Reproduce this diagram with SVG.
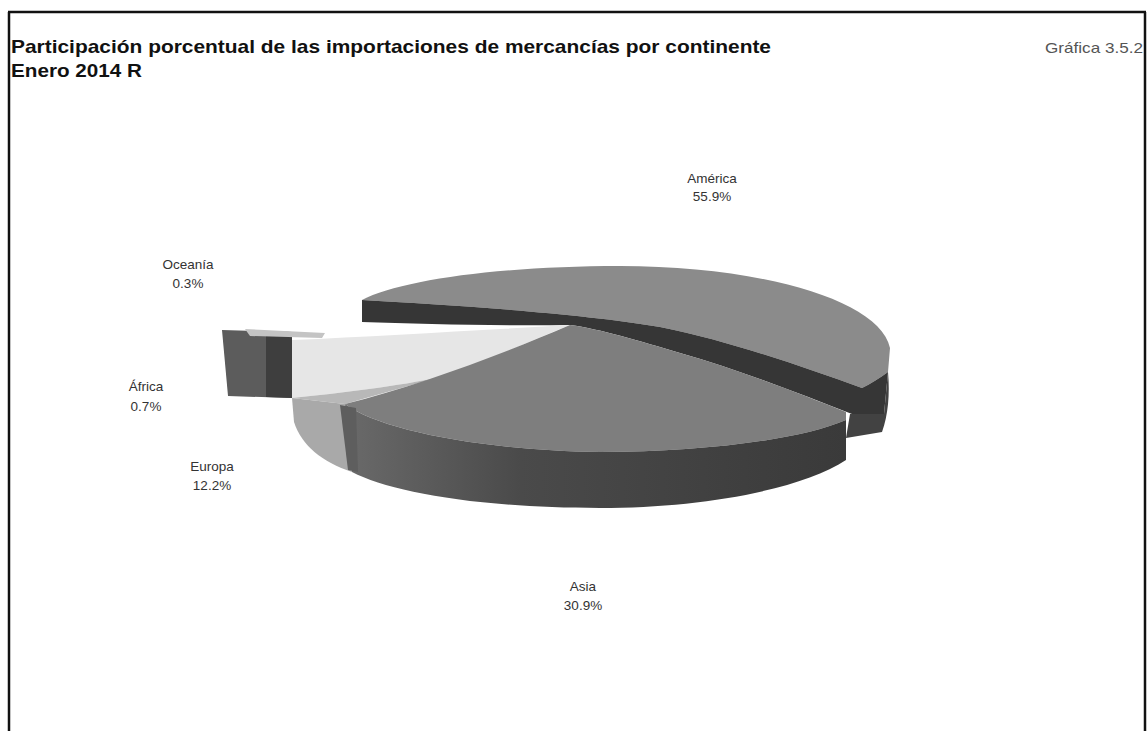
<svg xmlns="http://www.w3.org/2000/svg" width="1148" height="731" viewBox="0 0 1148 731">
<style>
.title{font-family:"Liberation Sans",Arial,sans-serif;font-size:18.5px;font-weight:bold;fill:#111}
.lbl{font-family:"Liberation Sans",Arial,sans-serif;font-size:13.5px;fill:#333;text-anchor:middle}
.num{font-family:"Liberation Sans",Arial,sans-serif;font-size:15px;fill:#555;text-anchor:end}
.frame{stroke:#111;stroke-width:2.5;fill:none}
</style>
<defs>
<linearGradient id="asiaSide" x1="0" y1="0" x2="1" y2="0">
<stop offset="0" stop-color="#6a6a6a"/>
<stop offset="0.35" stop-color="#4a4a4a"/>
<stop offset="1" stop-color="#3a3a3a"/>
</linearGradient>
</defs>
<rect width="1148" height="731" fill="#fff"/>
<g id="frame">
<line class="frame" x1="8" y1="12" x2="1146" y2="12"/>
<line class="frame" x1="9" y1="12" x2="9" y2="731"/>
<line class="frame" x1="1145" y1="12" x2="1145" y2="731"/>
</g>
<g id="titles">
<text class="title" x="11" y="53" textLength="760" lengthAdjust="spacingAndGlyphs">Participación porcentual de las importaciones de mercancías por continente</text>
<text class="title" x="11" y="77" textLength="131" lengthAdjust="spacingAndGlyphs">Enero 2014 R</text>
<text class="num" x="1143" y="53" textLength="98" lengthAdjust="spacingAndGlyphs">Gráfica 3.5.2</text>
</g>
<g id="pie">
<g id="slice-africa-oceania">
<path d="M222,330 L292,332 L292,398 L228,396 Z" fill="#5c5c5c"/>
<path d="M266,331 L292,332 L292,398 L266,397 Z" fill="#3e3e3e"/>
<path d="M245,329 L325,333 L322,338 L250,336 Z" fill="#c4c4c4"/>
</g>
<g id="slice-america">
<path d="M362,300 C400,280 500,266 620,266 C760,266 880,300 890,348 L888,372 C880,378 870,384 862,388 C800,366 730,341 660,327 C580,313 450,305 362,300 Z" fill="#8b8b8b"/>
<path d="M362,300 C450,305 580,313 660,327 C730,341 800,366 862,388 C870,384 880,378 888,372 L884,414 L852,414 C800,394 740,370 680,353 C640,341 600,329 570,325 C500,326 420,324 362,322 Z" fill="#363636"/>
<path d="M888,372 C890,395 888,415 882,432 L846,438 L850,414 L884,414 Z" fill="#424242"/>
</g>
<g id="slice-europa">
<path d="M292,340 C380,336 480,330 570,325 C520,345 480,365 440,377 C400,386 340,393 292,398 Z" fill="#e6e6e6"/>
<path d="M292,398 C340,393 400,386 440,377 L345,404 Z" fill="#b8b8b8"/>
<path d="M292,398 L345,404 L352,472 C322,462 302,446 294,422 Z" fill="#a9a9a9"/>
</g>
<g id="slice-asia">
<path d="M570,325 C600,329 640,341 680,353 C740,370 800,394 846,412 L846,420 C800,440 700,452 600,452 C480,450 380,430 345,404 C420,385 500,355 570,325 Z" fill="#7e7e7e"/>
<path d="M345,404 C380,430 480,450 600,452 C700,452 800,440 846,420 L846,460 C800,490 700,508 600,508 C480,508 390,492 352,472 Z" fill="url(#asiaSide)"/>
<path d="M340,405 L356,408 L358,472 L348,470 Z" fill="#5e5e5e"/>
</g>
</g>
<g id="label-america"><text class="lbl" x="712" y="183">América</text><text class="lbl" x="712" y="201">55.9%</text></g>
<g id="label-oceania"><text class="lbl" x="188" y="269">Oceanía</text><text class="lbl" x="188" y="288">0.3%</text></g>
<g id="label-africa"><text class="lbl" x="146" y="391">África</text><text class="lbl" x="146" y="411">0.7%</text></g>
<g id="label-europa"><text class="lbl" x="212" y="471">Europa</text><text class="lbl" x="212" y="490">12.2%</text></g>
<g id="label-asia"><text class="lbl" x="583" y="591">Asia</text><text class="lbl" x="583" y="610">30.9%</text></g>
</svg>
